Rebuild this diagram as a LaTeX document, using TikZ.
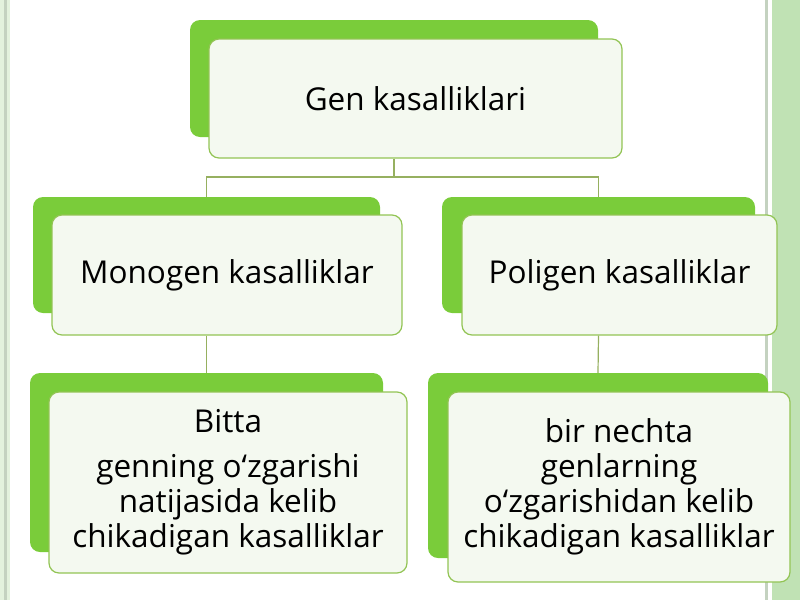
\documentclass[tikz,border=0pt]{standalone}
\usepackage{fontspec}
\setmainfont{Open Sans}

\definecolor{leafgreen}{RGB}{122,204,58}
\definecolor{cardfill}{RGB}{244,249,240}
\definecolor{cardedge}{RGB}{146,196,84}
\definecolor{linkgreen}{RGB}{150,176,96}
\definecolor{sideband}{RGB}{192,226,180}
\definecolor{sideline}{RGB}{196,210,192}

\begin{document}
\begin{tikzpicture}[x = 1pt, y = -1pt,
	back/.style = {fill = leafgreen, rounded corners = 10pt, inner sep = 0pt, outer sep = 0pt},
	card/.style = {draw = cardedge, fill = cardfill, line width = 1.2pt, rounded corners = 10pt,
		align = center, inner sep = 0pt, font = \fontsize{31.5}{35}\selectfont},
	link/.style = {draw = linkgreen, line width = 1.2pt}]

	\useasboundingbox (0, 0) rectangle (800, 600);

	% Side bands

	\fill [sideband!45] (0, 0) rectangle (10, 600);
	\fill [sideline] (4, 0) rectangle (7, 600);
	\fill [sideline] (765, 0) rectangle (767.5, 600);
	\fill [sideband] (772, 0) rectangle (800, 600);

	% Green backs

	\node [back, minimum width = 408, minimum height = 117] (gen-b) at (394, 78.5) {};
	\node [back, minimum width = 347, minimum height = 116] (mono-b) at (206.5, 255) {};
	\node [back, minimum width = 313, minimum height = 116] (poli-b) at (598.5, 255) {};
	\node [back, minimum width = 353, minimum height = 179] (bitta-b) at (206.5, 462.5) {};
	\node [back, minimum width = 340, minimum height = 185] (bir-b) at (598, 465.5) {};

	% Cards

	\node [card, minimum width = 413, minimum height = 119] (gen) at (415.5, 98.5) {Gen kasalliklari};
	\node [card, minimum width = 350, minimum height = 120] (mono) at (227, 275) {Monogen kasalliklar};
	\node [card, minimum width = 315, minimum height = 120] (poli) at (619.5, 275) {Poligen kasalliklar};
	\node [card, minimum width = 358, minimum height = 181] (bitta) at (228, 482.5)
		{Bitta\\[10pt] genning o‘zgarishi\\ natijasida kelib\\ chikadigan kasalliklar};
	\node [card, minimum width = 342, minimum height = 190] (bir) at (619, 487)
		{bir nechta\\ genlarning\\ o‘zgarishidan kelib\\ chikadigan kasalliklar};

	% Connectors

	\coordinate (split) at (394, 177);
	\draw [link] (gen-b |- gen.south) -- (split) -| (mono-b.north);
	\draw [link] (split) -| (poli-b.north);
	\draw [link] (mono-b |- mono.south) -- (bitta-b.north);
	\draw [link] (poli-b |- poli.south) -- (bir-b.north);

\end{tikzpicture}
\end{document}
